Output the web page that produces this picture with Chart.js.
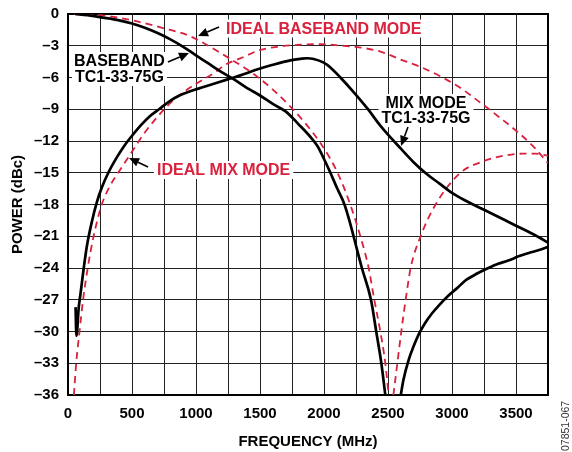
<!DOCTYPE html>
<html><head><meta charset="utf-8">
<script src="https://cdn.jsdelivr.net/npm/chart.js@4/dist/chart.umd.min.js"></script>
<style>html,body{margin:0;padding:0;background:#fff}#wrap{width:572px;height:452px}</style>
</head><body><div id="wrap"><canvas id="c" width="572" height="452"></canvas></div>
<script>
// ---------- DATA ----------
// Measured baseband mode, TC1-33-75G (first lobe)
const basebandFreq  = [55,150,250,400,500,600,700,800,900,1000,1100,1200,1300,1400,1500,1600,1700,1800,1900,1950,2000,2050,2100,2160,2200,2231,2296,2367,2408,2448,2479];
const basebandPower = [0,-0.1,-0.3,-0.6,-0.9,-1.3,-1.8,-2.4,-3.1,-3.9,-4.7,-5.5,-6.2,-7.0,-7.7,-8.5,-9.2,-10.4,-11.7,-12.5,-13.7,-15.0,-16.4,-18.0,-19.6,-21.0,-24.0,-27.0,-30.0,-33.0,-36.0];
// Measured baseband mode, TC1-33-75G (second lobe)
const basebandLobe2Freq  = [2600,2620,2661,2700,2739,2790,2843,2900,2973,3050,3102,3200,3284,3360,3440,3520,3595,3680,3750];
const basebandLobe2Power = [-36,-34.6,-32.7,-31.4,-30.3,-29.2,-28.3,-27.5,-26.6,-25.8,-25.2,-24.5,-24.0,-23.6,-23.3,-22.9,-22.6,-22.3,-22.0];
// Measured mix mode, TC1-33-75G
const mixFreq  = [59,66,84,97,123,148,187,225,264,315,379,443,507,570,635,711,798,870,955,1059,1189,1268,1346,1476,1600,1737,1815,1868,1920,1998,2050,2128,2233,2337,2443,2500,2599,2700,2800,2900,3000,3100,3250,3400,3500,3650,3750];
const mixPower = [-27.7,-30.4,-27.7,-26.5,-24.0,-21.9,-19.6,-17.8,-16.4,-15.0,-13.6,-12.4,-11.4,-10.5,-9.7,-9.0,-8.2,-7.7,-7.3,-6.9,-6.4,-6.1,-5.8,-5.25,-4.8,-4.38,-4.24,-4.18,-4.25,-4.6,-5.05,-6.0,-7.4,-8.9,-10.6,-11.4,-12.7,-14.0,-15.1,-16.0,-16.9,-17.6,-18.5,-19.4,-20.0,-20.9,-21.6];
// Ideal baseband mode (first and second lobe)
const idealBasebandFreq  = [50,250,500,750,955,1215,1476,1737,1972,2106,2205,2284,2349,2393,2440,2479,2505];
const idealBasebandPower = [0,-0.1,-0.6,-1.35,-2.1,-3.86,-5.9,-8.75,-12.2,-15,-18,-21,-24,-27,-30,-33,-36];
const idealBasebandLobe2Freq  = [2542,2573,2604,2638,2677,2755,2872,3066,3250,3400,3550,3650,3750];
const idealBasebandLobe2Power = [-36,-33,-30,-27,-24,-21,-18,-15,-13.9,-13.4,-13.2,-13.2,-13.4];
// Ideal mix mode
const idealMixFreq  = [46,64,90,118,154,200,264,330,392,468,527,600,700,800,900,1000,1137,1242,1346,1502,1659,1815,1972,2128,2285,2441,2598,2754,2911,3067,3224,3380,3537,3650,3750];
const idealMixPower = [-36,-33,-30,-27,-24,-21,-18,-16.2,-15,-13.6,-12.5,-11.2,-9.7,-8.4,-7.4,-6.6,-5.6,-4.7,-4.2,-3.4,-3.07,-2.9,-2.85,-2.98,-3.17,-3.55,-4.3,-5.0,-5.9,-7.0,-8.4,-9.85,-11.4,-12.7,-14.1];

// Axis tick values
const xTickLabels = [0,500,1000,1500,2000,2500,3000,3500];
const yTickValues = [0,-3,-6,-9,-12,-15,-18,-21,-24,-27,-30,-33,-36];

// ---------- annotation layout (data units) ----------
const RED = '#d9203c';
const labels = [
  {text:'IDEAL BASEBAND MODE', f:1234, db:-1.37, align:'left', color:RED},
  {text:'BASEBAND', f:47, db:-4.44, align:'left', color:'#000'},
  {text:'TC1-33-75G', f:55, db:-5.95, align:'left', color:'#000'},
  {text:'MIX MODE', f:2797, db:-8.41, align:'center', color:'#000'},
  {text:'TC1-33-75G', f:2797, db:-9.83, align:'center', color:'#000'},
  {text:'IDEAL MIX MODE', f:695, db:-14.74, align:'left', color:RED}
];
const arrows = [
  {from:[1180,-1.23], to:[1016,-2.08]},
  {from:[781,-4.54], to:[945,-3.69]},
  {from:[2656,-10.68], to:[2602,-12.47]},
  {from:[625,-14.46], to:[477,-13.6]}
];

const pts = (fx, py) => fx.map((f,i)=>({x:f, y:py[i]}));
const FONT = '"Liberation Sans", Arial, Helvetica, sans-serif';

const annoPlugin = {
  id:'anno',
  beforeDatasetsDraw(chart){
    const {ctx, scales:{x,y}, chartArea:a} = chart;
    ctx.save();
    ctx.font = 'bold 16px ' + FONT;
    ctx.textBaseline = 'middle';
    labels.forEach(l=>{
      const px = x.getPixelForValue(l.f), py = y.getPixelForValue(l.db);
      const w = ctx.measureText(l.text).width;
      const left = l.align==='center' ? px - w/2 : px;
      ctx.fillStyle = '#fff';
      ctx.fillRect(left-3, py-9, w+6, 18);
    });
    labels.forEach(l=>{
      const px = x.getPixelForValue(l.f), py = y.getPixelForValue(l.db);
      const w = ctx.measureText(l.text).width;
      const left = l.align==='center' ? px - w/2 : px;
      ctx.fillStyle = l.color;
      ctx.textAlign = 'left';
      ctx.fillText(l.text, left, py+1);
    });
    ctx.strokeStyle = '#000';
    ctx.lineWidth = 2;
    ctx.strokeRect(a.left, a.top, a.right-a.left, a.bottom-a.top);
    ctx.restore();
  },
  afterDatasetsDraw(chart){
    const {ctx, scales:{x,y}} = chart;
    ctx.save();
    ctx.strokeStyle = '#000'; ctx.fillStyle = '#000'; ctx.lineWidth = 1.6;
    arrows.forEach(ar=>{
      const x1 = x.getPixelForValue(ar.from[0]), y1 = y.getPixelForValue(ar.from[1]);
      const x2 = x.getPixelForValue(ar.to[0]), y2 = y.getPixelForValue(ar.to[1]);
      const ang = Math.atan2(y2-y1, x2-x1);
      const L = 10, W = 4.5;
      const bx = x2 - L*Math.cos(ang), by = y2 - L*Math.sin(ang);
      ctx.beginPath(); ctx.moveTo(x1,y1); ctx.lineTo(bx,by); ctx.stroke();
      ctx.beginPath();
      ctx.moveTo(x2,y2);
      ctx.lineTo(bx + W*Math.sin(ang), by - W*Math.cos(ang));
      ctx.lineTo(bx - W*Math.sin(ang), by + W*Math.cos(ang));
      ctx.closePath(); ctx.fill();
    });
    ctx.restore();
  },
  afterDraw(chart){
    const ctx = chart.ctx;
    ctx.save();
    ctx.translate(566, 451);
    ctx.rotate(-Math.PI/2);
    ctx.font = '10.5px ' + FONT;
    ctx.fillStyle = '#333';
    ctx.textAlign = 'left';
    ctx.textBaseline = 'middle';
    ctx.fillText('07851-067', 0, 0);
    ctx.restore();
  }
};

const solid = (label, data) => ({label, data, borderColor:'#000', borderWidth:2.7, pointRadius:0, fill:false, cubicInterpolationMode:'monotone'});
const dashed = (label, data) => ({label, data, borderColor:RED, borderWidth:1.8, borderDash:[7,5], pointRadius:0, fill:false, cubicInterpolationMode:'monotone'});

new Chart(document.getElementById('c'), {
  type:'line',
  data:{datasets:[
    solid('BASEBAND TC1-33-75G', pts(basebandFreq, basebandPower)),
    solid('BASEBAND TC1-33-75G (2nd lobe)', pts(basebandLobe2Freq, basebandLobe2Power)),
    solid('MIX MODE TC1-33-75G', pts(mixFreq, mixPower)),
    dashed('IDEAL BASEBAND MODE', pts(idealBasebandFreq, idealBasebandPower)),
    dashed('IDEAL BASEBAND MODE (2nd lobe)', pts(idealBasebandLobe2Freq, idealBasebandLobe2Power)),
    dashed('IDEAL MIX MODE', pts(idealMixFreq, idealMixPower))
  ]},
  options:{
    responsive:false, animation:false, devicePixelRatio:1,
    layout:{padding:{top:14,right:24,left:0,bottom:0}},
    plugins:{legend:{display:false}, tooltip:{enabled:false}},
    scales:{
      x:{type:'linear', min:0, max:3750,
        afterFit(s){ s.height = 57; s.paddingLeft = 0; s.paddingRight = 0; },
        grid:{color:'#222', lineWidth:1, drawTicks:false},
        border:{display:true, color:'#000', width:2},
        ticks:{stepSize:250, autoSkip:false, maxRotation:0, padding:10, color:'#000',
          font:{family:FONT, size:15, weight:'bold'},
          callback:v => xTickLabels.includes(v) ? String(v) : ''},
        title:{display:true, text:'FREQUENCY (MHz)', color:'#000', padding:{top:0,bottom:1},
          font:{family:FONT, size:15, weight:'bold'}}
      },
      y:{type:'linear', min:-36, max:0,
        afterFit(s){ s.width = 68; s.paddingTop = 0; s.paddingBottom = 0; },
        afterBuildTicks(s){ s.ticks = yTickValues.map(v=>({value:v})); },
        grid:{color:'#222', lineWidth:1, drawTicks:false},
        border:{display:true, color:'#000', width:2},
        ticks:{padding:9, color:'#000', font:{family:FONT, size:15, weight:'bold'},
          callback:v => v===0 ? '0' : '\u2013' + Math.abs(v)},
        title:{display:true, text:'POWER (dBc)', color:'#000', padding:{top:9,bottom:0},
          font:{family:FONT, size:15, weight:'bold'}}
      }
    }
  },
  plugins:[annoPlugin]
});
</script></body></html>
